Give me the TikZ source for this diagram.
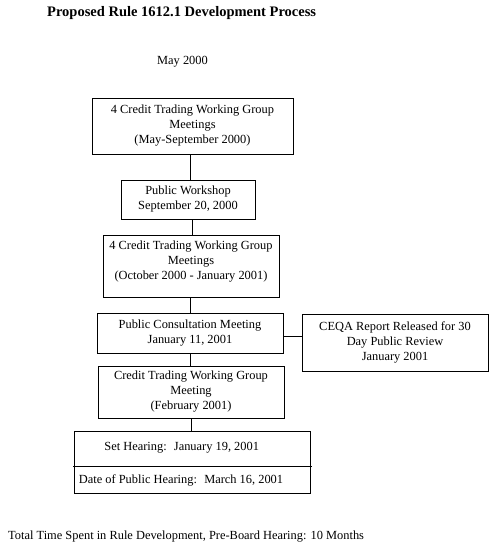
\documentclass[tikz,border=0pt]{standalone}
\usepackage{fontspec}
\setmainfont{Liberation Serif}
\begin{document}
\begin{tikzpicture}[x=1pt,y=-1pt,
  box/.style={draw,line width=0.9pt,rectangle,inner sep=0pt,align=center,font=\fontsize{12.4}{15}\selectfont},
  txt/.style={inner sep=0pt,align=center,font=\fontsize{12.4}{15}\selectfont},
  conn/.style={line width=0.9pt}]
\useasboundingbox[fill=white] (0,0) rectangle (489,549);
\node[inner sep=0pt,anchor=west,font=\bfseries\fontsize{14.5}{16}\selectfont] (title) at (47,13) {Proposed Rule 1612.1 Development Process};
\node[txt] (may) at (182.5,62) {May 2000};
\node[box,minimum width=201pt,minimum height=56pt] (b1) at (192.5,126) {4 Credit Trading Working Group\\Meetings\\(May-September 2000)};
\node[box,minimum width=134pt,minimum height=39pt] (b2) at (188,199.5) {Public Workshop\\September 20, 2000};
\node[box,minimum width=176pt,minimum height=62pt] (b3) at (191,266) {};
\node[txt] (b3t) at (191,262) {4 Credit Trading Working Group\\Meetings\\(October 2000 - January 2001)};
\node[box,minimum width=186pt,minimum height=40pt] (b4) at (190,333) {Public Consultation Meeting\\January 11, 2001};
\node[box,minimum width=186pt,minimum height=57pt] (b5) at (395,342.5) {CEQA Report Released for 30\\Day Public Review\\January 2001};
\node[box,minimum width=186pt,minimum height=52pt] (b6) at (191,392) {Credit Trading Working Group\\Meeting\\(February 2001)};
\node[draw,line width=0.9pt,rectangle,inner sep=0pt,minimum width=236pt,minimum height=62pt] (b7) at (192,462) {};
\coordinate (dl) at (73,466.3);
\coordinate (dr) at (312,466.3);
\draw[conn] (dl) -- (dr);
\node[txt] (set) at (181.7,448) {Set Hearing:~ January 19, 2001};
\node[txt,anchor=west] (date) at (78.7,480) {Date of Public Hearing:~ March 16, 2001};
\node[txt,anchor=west] (total) at (8,537) {Total Time Spent in Rule Development, Pre-Board Hearing: 10 Months};
\draw[conn] (b1.south -| 190,0) -- (b2.north -| 190,0);
\draw[conn] (b2.south -| 192,0) -- (b3.north -| 192,0);
\draw[conn] (b3.south -| 190,0) -- (b4.north -| 190,0);
\draw[conn] (b4.east |- 0,336) -- (b5.west |- 0,336);
\draw[conn] (b4.south -| 190,0) -- (b6.north -| 190,0);
\draw[conn] (b6.south -| 191.5,0) -- (b7.north -| 191.5,0);
\end{tikzpicture}
\end{document}
